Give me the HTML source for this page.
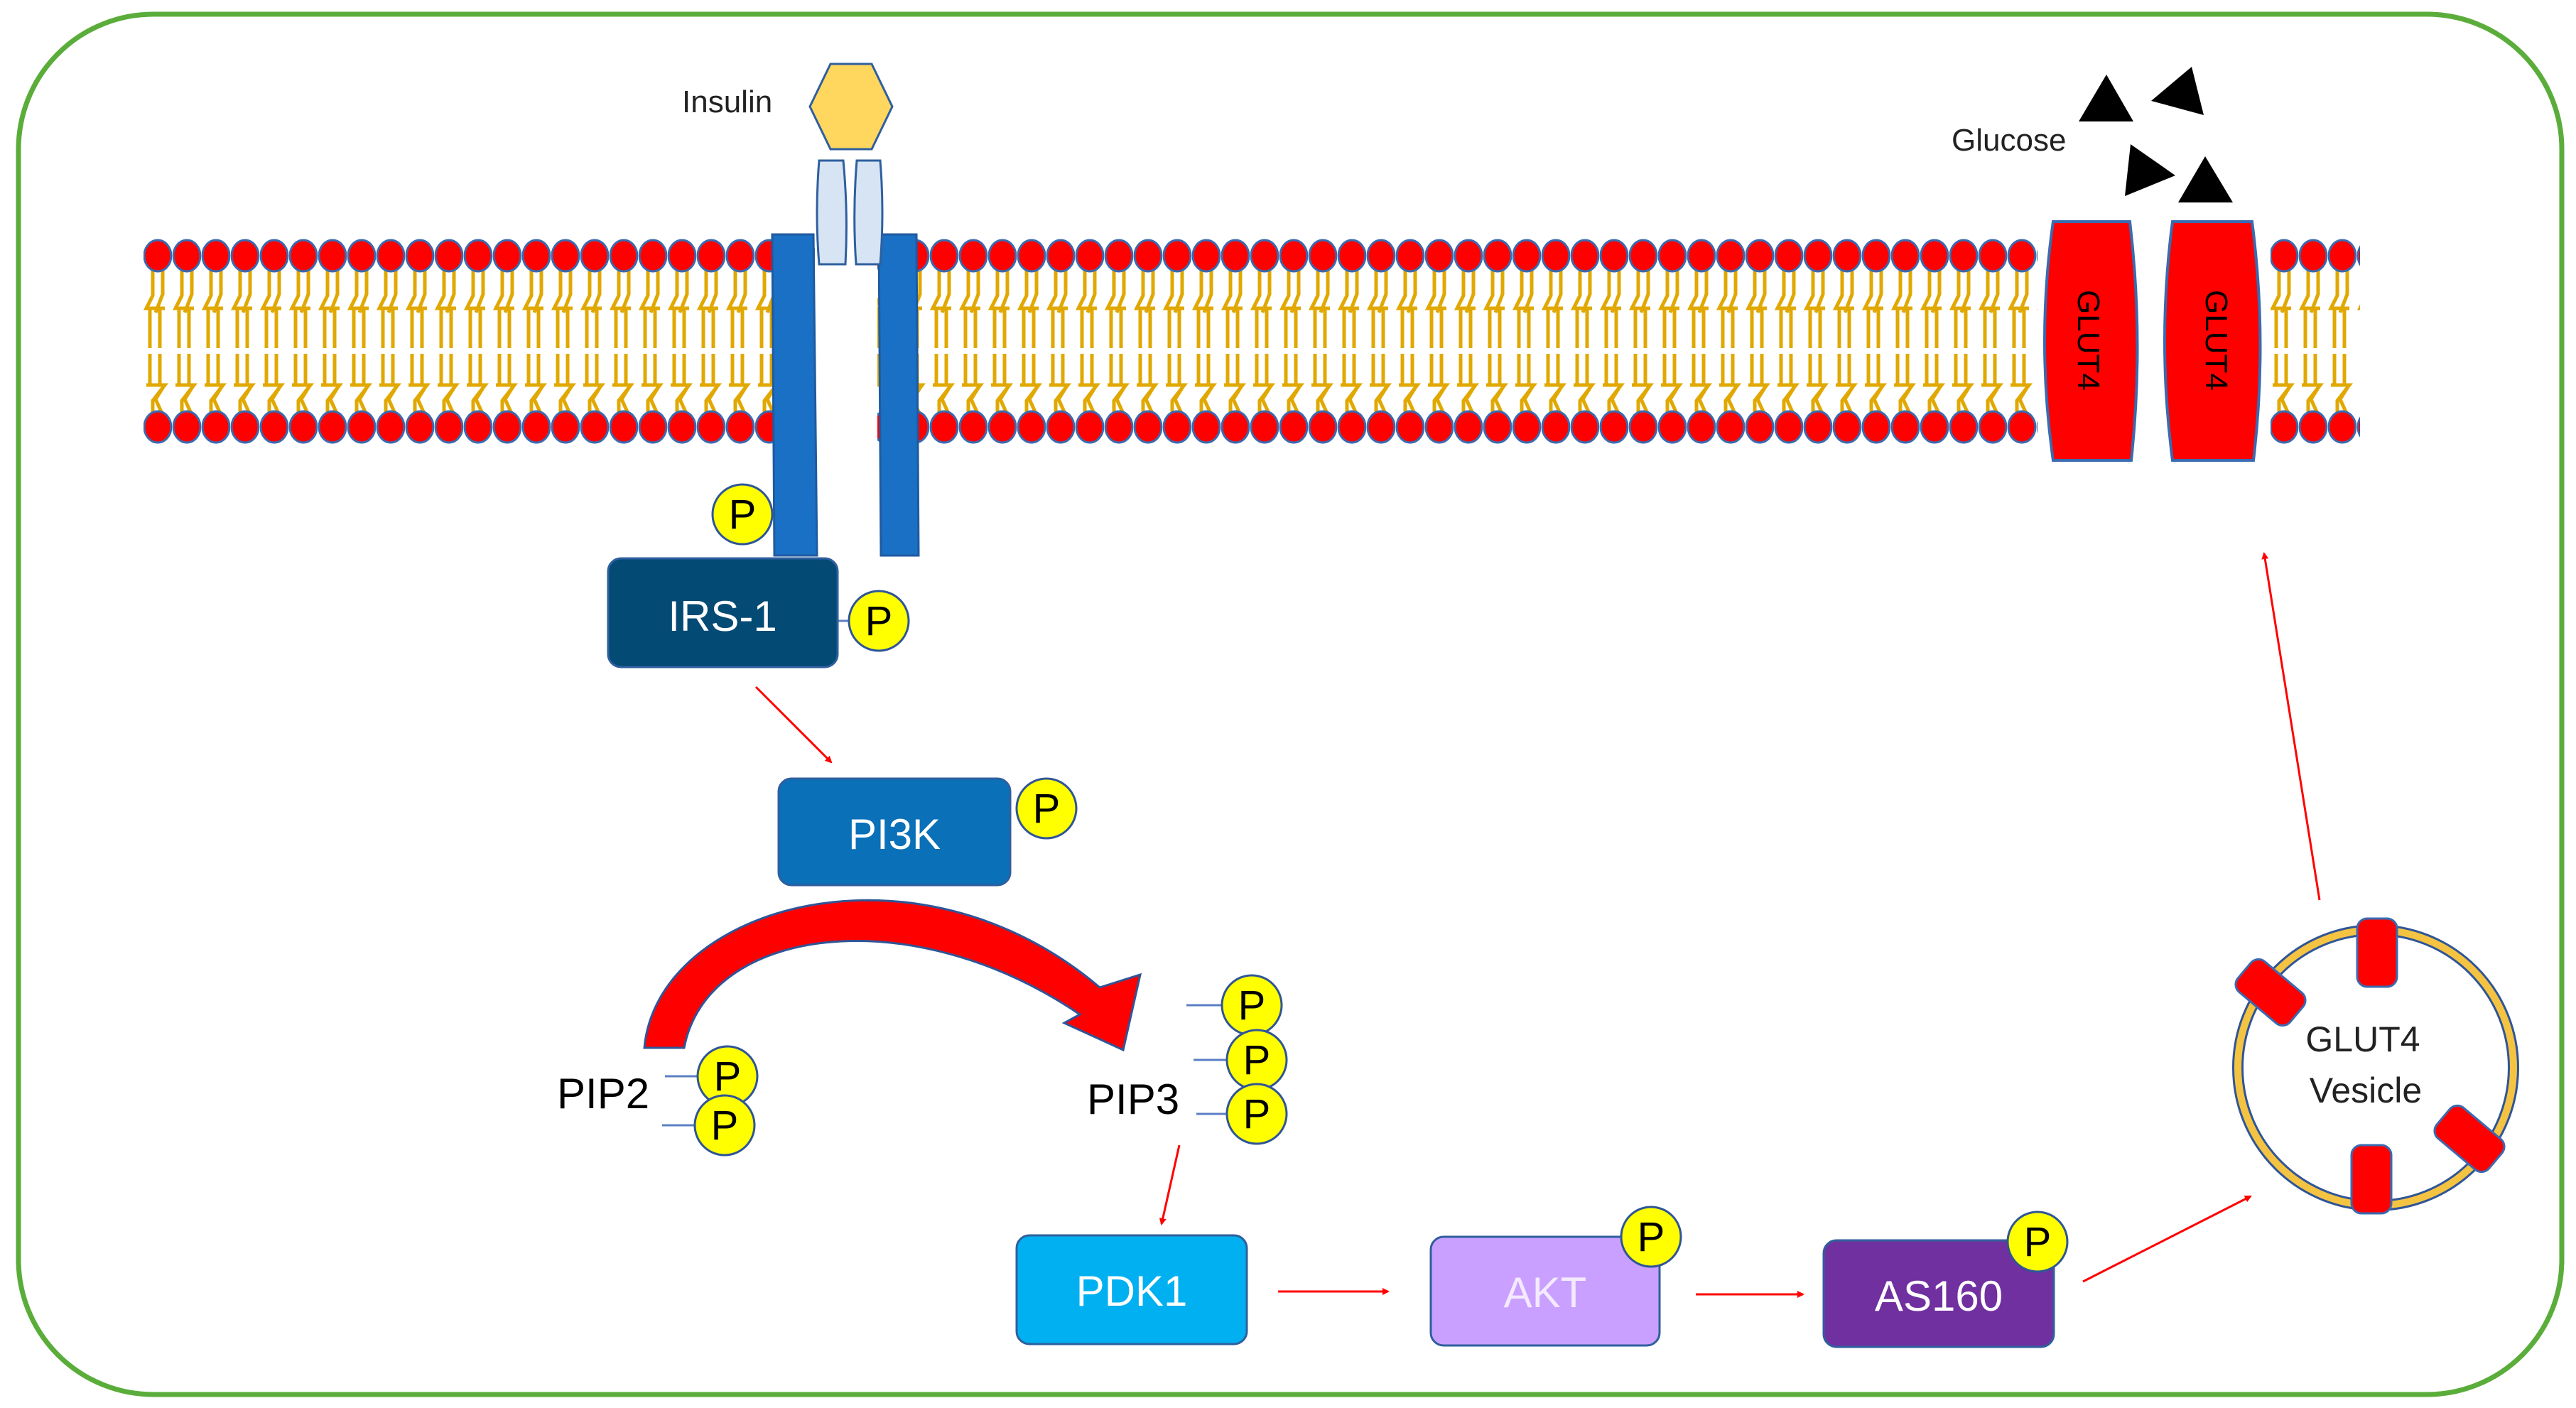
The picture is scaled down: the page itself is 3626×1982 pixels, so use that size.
<!DOCTYPE html>
<html><head><meta charset="utf-8"><style>
html,body{margin:0;padding:0;background:#fff}
svg{display:block}
text{font-family:"Liberation Sans",sans-serif}
</style></head><body>
<svg width="3626" height="1982" viewBox="0 0 3626 1982" xmlns="http://www.w3.org/2000/svg">
<defs>
<pattern id="lip" patternUnits="userSpaceOnUse" x="202" y="0" width="41" height="1982">
<g fill="none" stroke="#e0a800" stroke-width="5">
<polyline points="13,380 13,416 4,434 30,434"/>
<polyline points="27,380 27,414 17,440"/>
<line x1="9" y1="434" x2="9" y2="490"/>
<line x1="23" y1="434" x2="23" y2="490"/>
<line x1="9" y1="498" x2="9" y2="542"/>
<line x1="23" y1="498" x2="23" y2="542"/>
<polyline points="4,542 30,542 13,564 13,584"/>
<polyline points="27,546 17,562 27,584"/>
</g>
<ellipse cx="20" cy="360" rx="19" ry="22" fill="#ff0000" stroke="#3a6ab0" stroke-width="3"/>
<ellipse cx="20" cy="601" rx="19" ry="22" fill="#ff0000" stroke="#3a6ab0" stroke-width="3"/>
</pattern>
<marker id="ah" markerWidth="10" markerHeight="10" refX="8" refY="5" orient="auto" markerUnits="userSpaceOnUse" viewBox="0 0 10 10">
<path d="M0,0 L10,5 L0,10 z" fill="#ff0000"/>
</marker>
</defs>
<rect x="26" y="20" width="3580" height="1943" rx="190" fill="#fff" stroke="#5aad3a" stroke-width="7"/>

<rect x="202" y="330" width="3120" height="300" fill="url(#lip)"/>

<rect x="1147" y="330" width="88" height="460" fill="#fff"/>
<path d="M1087,330 L1145,330 L1150,782 L1090,782 Z" fill="#1a70c4" stroke="#1f5aa0" stroke-width="3"/>
<path d="M1237,330 L1290,330 L1293,782 L1240,782 Z" fill="#1a70c4" stroke="#1f5aa0" stroke-width="3"/>
<path d="M1153,226 L1187,226 Q1194,300 1190,372 L1153,372 Q1147,300 1153,226 Z" fill="#d6e4f4" stroke="#2f5f9e" stroke-width="3"/>
<path d="M1206,226 L1239,226 Q1245,300 1239,372 L1205,372 Q1200,300 1206,226 Z" fill="#d6e4f4" stroke="#2f5f9e" stroke-width="3"/>
<polygon points="1169,90 1227,90 1256,150 1227,210 1169,210 1140,150" fill="#ffd75e" stroke="#2f5f9e" stroke-width="3"/>
<text x="960" y="158" font-size="44" fill="#222">Insulin</text>

<rect x="2868" y="312" width="328" height="340" fill="#fff"/>
<path d="M2890,312 L2998,312 Q3018,480 3000,648 L2890,648 Q2866,480 2890,312 Z" fill="#ff0000" stroke="#3a6ab0" stroke-width="4"/>
<path d="M3058,312 L3170,312 Q3192,480 3172,648 L3058,648 Q3036,480 3058,312 Z" fill="#ff0000" stroke="#3a6ab0" stroke-width="4"/>
<text transform="translate(2925,408) rotate(90)" font-size="44" fill="#000">GLUT4</text>
<text transform="translate(3105,408) rotate(90)" font-size="44" fill="#000">GLUT4</text>
<text x="2747" y="212" font-size="44" fill="#222">Glucose</text>
<polygon points="2965,105 2926,171 3003,171" fill="#000"/>
<polygon points="3085,94 3028,142 3102,162" fill="#000"/>
<polygon points="2999,203 3062,247 2991,276" fill="#000"/>
<polygon points="3104,220 3066,285 3143,285" fill="#000"/>

<g stroke="#5b7fc4" stroke-width="3">
<line x1="1179" y1="874" x2="1200" y2="874"/>
<line x1="936" y1="1515" x2="985" y2="1515"/>
<line x1="932" y1="1584" x2="980" y2="1584"/>
<line x1="1670" y1="1415" x2="1722" y2="1415"/>
<line x1="1680" y1="1492" x2="1728" y2="1492"/>
<line x1="1684" y1="1568" x2="1728" y2="1568"/>
</g>

<rect x="856" y="786" width="323" height="153" rx="18" fill="#034a75" stroke="#2f5f9e" stroke-width="3"/>
<text x="1017" y="888" font-size="60" fill="#fff" text-anchor="middle">IRS-1</text>
<rect x="1096" y="1096" width="326" height="150" rx="18" fill="#0a70b8" stroke="#2f5f9e" stroke-width="3"/>
<text x="1259" y="1195" font-size="60" fill="#fff" text-anchor="middle">PI3K</text>
<rect x="1431" y="1739" width="324" height="153" rx="18" fill="#00b0f0" stroke="#2f5f9e" stroke-width="3"/>
<text x="1593" y="1838" font-size="60" fill="#fff" text-anchor="middle">PDK1</text>
<rect x="2014" y="1741" width="322" height="153" rx="18" fill="#c9a0ff" stroke="#2f5f9e" stroke-width="3"/>
<text x="2175" y="1840" font-size="60" fill="#f4eaff" text-anchor="middle">AKT</text>
<rect x="2567" y="1746" width="324" height="150" rx="18" fill="#7030a0" stroke="#2f5f9e" stroke-width="3"/>
<text x="2729" y="1845" font-size="60" fill="#fff" text-anchor="middle">AS160</text>

<path d="M907,1475 C925,1275 1290,1170 1548,1390 L1605,1372 L1581,1478 L1498,1440 L1520,1428 C1280,1265 995,1305 963,1475 Z" fill="#ff0000" stroke="#2f5597" stroke-width="3"/>
<text x="784" y="1560" font-size="60" fill="#000">PIP2</text>
<text x="1530" y="1568" font-size="60" fill="#000">PIP3</text>

<g stroke="#ff0000" stroke-width="3" fill="none" marker-end="url(#ah)">
<line x1="1064" y1="967" x2="1170" y2="1073"/>
<line x1="1660" y1="1612" x2="1635" y2="1723"/>
<line x1="1799" y1="1818" x2="1954" y2="1818"/>
<line x1="2387" y1="1822" x2="2538" y2="1822"/>
<line x1="2932" y1="1804" x2="3168" y2="1684"/>
<line x1="3265" y1="1267" x2="3187" y2="779"/>
</g>

<g font-size="58" text-anchor="middle">
<g fill="#ffff00" stroke="#2f5597" stroke-width="3">
<circle cx="1045" cy="724" r="42"/><circle cx="1237" cy="874" r="42"/><circle cx="1473" cy="1138" r="42"/>
<circle cx="1024" cy="1515" r="42"/><circle cx="1020" cy="1584" r="42"/>
<circle cx="1762" cy="1415" r="42"/><circle cx="1769" cy="1492" r="42"/><circle cx="1769" cy="1568" r="42"/>
<circle cx="2324" cy="1741" r="42"/><circle cx="2868" cy="1748" r="42"/>
</g>
<text x="1045" y="744">P</text><text x="1237" y="894">P</text><text x="1473" y="1158">P</text>
<text x="1024" y="1535">P</text><text x="1020" y="1604">P</text>
<text x="1762" y="1435">P</text><text x="1769" y="1512">P</text><text x="1769" y="1588">P</text>
<text x="2324" y="1761">P</text><text x="2868" y="1768">P</text>
</g>

<circle cx="3344" cy="1503" r="194" fill="none" stroke="#2f5597" stroke-width="16"/>
<circle cx="3344" cy="1503" r="194" fill="none" stroke="#f5c342" stroke-width="10"/>
<g fill="#ff0000" stroke="#3a6ab0" stroke-width="3">
<rect x="3318" y="1293" width="56" height="96" rx="14"/>
<rect x="3310" y="1612" width="56" height="96" rx="14"/>
<rect x="-28" y="-48" width="56" height="96" rx="14" transform="translate(3196,1397) rotate(-50)"/>
<rect x="-28" y="-48" width="56" height="96" rx="14" transform="translate(3476,1603) rotate(-50)"/>
</g>
<text x="3326" y="1480" font-size="50" fill="#222" text-anchor="middle">GLUT4</text>
<text x="3330" y="1552" font-size="50" fill="#222" text-anchor="middle">Vesicle</text>
</svg>
</body></html>
